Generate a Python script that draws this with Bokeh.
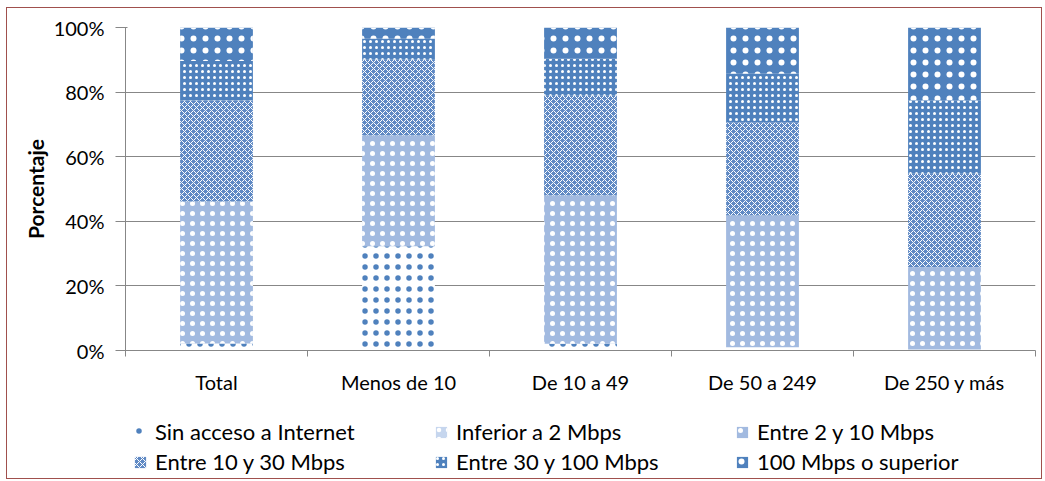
from bokeh.plotting import figure
from bokeh.layouts import column
from bokeh.models import ColumnDataSource, Range1d, FixedTicker, Legend, LegendItem
from bokeh.embed import file_html
from bokeh.resources import INLINE

# Company size groups and broadband access shares (% of companies)
categories = ["Total", "Menos de 10", "De 10 a 49", "De 50 a 249", "De 250 y más"]
series_names = ["Sin acceso a Internet", "Inferior a 2 Mbps", "Entre 2 y 10 Mbps",
                "Entre 10 y 30 Mbps", "Entre 30 y 100 Mbps", "100 Mbps o superior"]
sin_acceso = [2.2, 32.3, 2.1, 1.0, 0.3]
inferior_2 = [0.0, 0.0, 0.0, 0.0, 0.0]
entre_2_10 = [43.9, 34.3, 45.9, 40.8, 25.5]
entre_10_30 = [31.3, 23.4, 30.9, 28.9, 28.9]
entre_30_100 = [12.2, 6.5, 11.4, 15.0, 22.8]
mas_100 = [10.4, 3.5, 9.7, 14.3, 22.5]
y_ticks = [0, 20, 40, 60, 80, 100]
y_tick_labels = ["0%", "20%", "40%", "60%", "80%", "100%"]

keys = ["s0", "s1", "s2", "s3", "s4", "s5"]
source = ColumnDataSource(dict(
    x=[i + 0.5 for i in range(len(categories))],
    s0=sin_acceso, s1=inferior_2, s2=entre_2_10,
    s3=entre_10_30, s4=entre_30_100, s5=mas_100,
))

BLUE = "#4f81bd"
FONT = "Lato"
GRAY = "#878787"

# pattern fills, lightest to darkest
fills = ["white", "#c6d6ee", "#a2bae0", "#5f89c4", BLUE, BLUE]
hatches = [".", ".", ".", "x", ".", "."]
hatch_colors = [BLUE, "white", "white", "white", "white", "white"]
hatch_scales = [11, 9, 10, 6, 6, 12]
hatch_weights = [0.1, 0.5, 0.8, 1.0, 0.4, 0.1]
styles = dict(fill_color=fills, line_color=None, hatch_pattern=hatches,
              hatch_color=hatch_colors, hatch_scale=hatch_scales, hatch_weight=hatch_weights)

p = figure(width=1034, height=400, output_backend="svg", toolbar_location=None,
           x_range=Range1d(0, len(categories)), y_range=Range1d(0, 100),
           min_border_left=118, min_border_right=6, min_border_top=19, min_border_bottom=58)
p.outline_line_color = None
p.background_fill_color = "white"
p.border_fill_color = "white"

renderers = p.vbar_stack(keys, x="x", width=0.4, source=source, **styles)

# axes
p.xgrid.grid_line_color = None
p.ygrid.grid_line_color = GRAY
p.ygrid.grid_line_width = 1
p.ygrid.ticker = FixedTicker(ticks=y_ticks)

p.yaxis.ticker = FixedTicker(ticks=y_ticks)
p.yaxis.major_label_overrides = {t: l for t, l in zip(y_ticks, y_tick_labels)}
p.yaxis.axis_line_color = GRAY
p.yaxis.major_tick_line_color = GRAY
p.yaxis.major_tick_out = 10
p.yaxis.major_tick_in = 2
p.yaxis.minor_tick_line_color = None
p.yaxis.major_label_text_font = FONT
p.yaxis.major_label_text_font_size = "20px"
p.yaxis.major_label_text_color = "black"
p.yaxis.major_label_standoff = 11
p.yaxis.axis_label = "Porcentaje"
p.yaxis.axis_label_text_font = FONT
p.yaxis.axis_label_text_font_style = "bold"
p.yaxis.axis_label_text_font_size = "21px"
p.yaxis.axis_label_text_color = "black"
p.yaxis.axis_label_standoff = 3

centers = [i + 0.5 for i in range(len(categories))]
p.xaxis.ticker = FixedTicker(ticks=centers, minor_ticks=list(range(len(categories) + 1)))
p.xaxis.major_label_overrides = {c: name for c, name in zip(centers, categories)}
p.xaxis.axis_line_color = GRAY
p.xaxis.major_tick_line_color = None
p.xaxis.major_tick_out = 0
p.xaxis.major_tick_in = 0
p.xaxis.minor_tick_line_color = GRAY
p.xaxis.minor_tick_out = 6
p.xaxis.minor_tick_in = 0
p.xaxis.major_label_text_font = FONT
p.xaxis.major_label_text_font_size = "20px"
p.xaxis.major_label_text_color = "black"
p.xaxis.major_label_standoff = 13

# legend strip under the chart; its zero-width bars sit outside the visible ranges,
# so only the legend swatches show
lp = figure(width=1034, height=70, output_backend="svg", toolbar_location=None,
            x_range=Range1d(10, 11), y_range=Range1d(200, 201),
            min_border_left=0, min_border_right=0, min_border_top=0, min_border_bottom=0)
lp.axis.visible = False
lp.grid.visible = False
lp.outline_line_color = None
lp.background_fill_color = "white"
lp.border_fill_color = "white"
swatches = lp.vbar_stack(keys, x="x", width=0, source=source, **styles)

items = [LegendItem(label=n, renderers=[r]) for n, r in zip(series_names, swatches)]
legend = Legend(items=items, ncols=3, orientation="horizontal", location=(8, 3),
                glyph_width=14, glyph_height=14, label_standoff=8, label_width=276,
                label_height=26, spacing=3, padding=6, margin=0,
                label_text_font=FONT, label_text_font_size="22px", label_text_color="black",
                border_line_color=None, background_fill_alpha=0)
lp.add_layout(legend, "center")

layout = column(p, lp, spacing=0)
layout.styles = {"border": "1.5px solid #a0504d", "background-color": "white"}
layout.margin = (7, 0, 0, 6)

open("out.html", "w").write(file_html(layout, INLINE))
